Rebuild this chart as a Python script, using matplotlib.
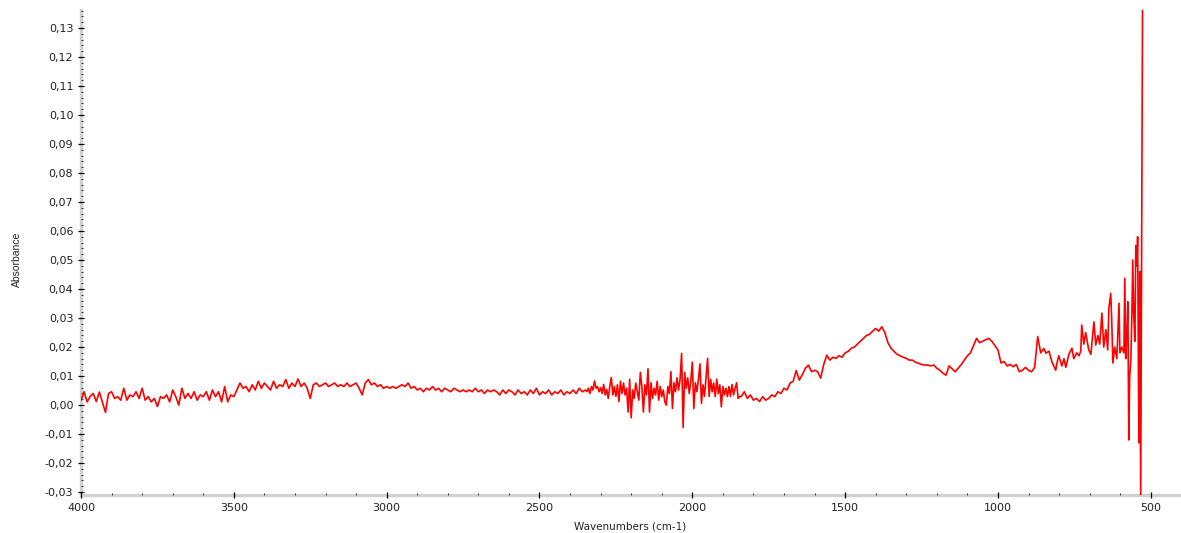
import numpy as np
import matplotlib
matplotlib.use("Agg")
import matplotlib.pyplot as plt
from matplotlib.ticker import MultipleLocator, FuncFormatter

# absorbance values in milli-absorbance units
# each segment: start wavenumber, step (cm-1), values
seg_4000 = [1.7, 4.6, 1.1, 3.0, 4.0, 1.2, 4.5, 1.0, -2.5, 4.0,
            4.6, 2.3, 2.9, 1.7, 5.8, 1.7, 3.5, 2.9, 4.6, 2.3,
            5.8, 1.7, 2.9, 1.1, 2.3, -0.5, 2.9, 2.3, 3.5, 1.1,
            5.2, 2.9, 0.0, 5.8, 2.3, 4.0, 2.3, 4.6, 1.7, 3.5,
            2.9, 4.6, 1.7, 5.2, 2.9, 4.6, 1.1, 6.4, 1.1, 3.5, 2.9]

seg_3490 = [5.2, 7.6, 5.8, 6.4, 4.6, 7.0, 5.2, 8.2, 5.8, 7.6,
            6.4, 5.2, 8.2, 5.8, 7.0, 6.4, 8.8, 5.8, 7.6, 6.4,
            9.0, 6.4, 7.6, 5.8, 2.3, 7.0, 7.6, 6.4, 7.0, 7.6,
            6.4, 7.0, 7.6, 6.4, 7.0, 6.4, 7.6, 6.4, 7.0, 7.6,
            5.8, 3.5, 7.6, 8.8, 7.0, 7.6, 6.4, 7.0, 5.8, 6.4,
            5.8, 6.4, 5.8, 6.4, 7.0, 6.4, 7.6, 5.8, 6.4, 5.2]

seg_2890 = [5.8, 4.6, 5.8, 5.2, 6.4, 5.2, 5.8, 4.6, 5.8, 5.2,
            4.6, 5.8, 5.2, 4.6, 5.2, 4.6, 5.2, 4.6, 5.8, 4.6,
            5.2, 4.0, 5.2, 4.6, 5.2, 4.6, 3.5, 5.2, 4.0, 5.2,
            4.6, 3.5, 5.2, 4.0, 4.6, 3.5, 5.2, 4.0, 5.8, 3.5,
            4.6, 4.0, 5.2, 3.5, 4.6, 4.0, 5.2, 3.5, 4.6, 4.0,
            5.2, 4.0, 5.8, 4.6, 5.2]

seg_2345 = [4.6, 5.8, 4.0, 6.4, 5.2, 8.3, 5.8, 6.4, 4.6, 6.0,
            4.0, 7.1, 3.5, 5.4, 2.3, 6.4, 9.5, 3.5, 6.4, 3.0,
            7.0, 1.2, 8.2, 4.0, 7.6, 3.5, 5.8, -2.4, 8.9, -4.4,
            5.2, 2.3, 7.6, 4.6, 1.7, 11.3, 6.4, -2.4, 7.0, 3.5,
            12.5, -2.4, 7.7, 2.3, 5.8, 3.5, 8.2, 1.7, 6.4, 2.9,
            5.2, 1.2, 0.0, 6.4, 4.0, 11.5, -1.2, 7.7, 4.6, 9.4,
            5.2, 8.8, 17.8, -7.7, 11.3, 5.8, 9.4, 4.0, 8.2, 14.8,
            -1.2, 7.7, 4.6, 8.8, 14.2, 0.6, 7.0, 3.0, 9.4, 16.1,
            3.0, 8.9, 4.6, 7.6, 2.9, 8.9, 4.0, 7.0, -0.6, 6.4,
            3.5, 5.8, 2.9, 6.4, 3.0, 7.1, 3.5, 5.8, 7.7, 2.3, 3.0]

seg_1840 = [2.9, 4.6, 2.3, 3.5, 1.7, 2.3, 1.2, 2.9, 1.7, 2.3,
            3.5, 2.9, 4.6, 4.0, 5.8, 5.2, 7.6, 8.2, 11.9]

seg_1650 = [8.6, 10.5, 12.7, 13.8, 11.5, 12.0, 11.5, 9.3, 14.0, 17.2,
            15.5, 16.5, 16.1, 17.0, 16.5, 18.0, 18.5, 19.6, 20.0, 21.0,
            22.0, 23.0, 24.0, 24.4, 25.5, 26.4, 25.5, 27.0, 25.0, 21.5,
            19.6, 18.5, 17.5, 17.0, 16.5, 16.1, 15.5, 15.5, 14.8, 14.4,
            14.0, 13.8, 13.8, 13.5, 13.8, 12.7, 12.0, 11.0, 10.3, 13.5,
            12.5, 11.5, 12.7, 14.0, 15.5, 17.0, 18.0, 20.5, 23.0, 21.5,
            22.0, 22.5, 23.0, 22.0, 20.5, 19.0, 14.5, 15.0, 13.5, 14.0,
            13.2, 14.0, 11.5, 12.0, 13.0, 12.0, 11.5, 13.0, 23.6, 18.0, 19.5]

tail_wn = [843, 833, 824, 811, 807, 801, 791, 784, 778, 768,
           758, 752, 742, 735, 729, 726, 719, 713, 703, 696,
           686, 680, 673, 667, 660, 654, 647, 641, 637, 631,
           628, 624, 618, 611, 604, 601, 595, 588, 585, 582,
           578, 575, 572, 569, 565, 562, 559, 556, 552, 549,
           546, 543, 539, 536, 533, 527]
tail_abs = [17.9, 18.6, 15.0, 12.0, 14.5, 17.0, 13.5, 16.0, 13.0, 17.5,
            19.6, 16.0, 18.0, 17.0, 18.6, 27.6, 21.0, 25.0, 19.0, 17.5,
            28.7, 20.7, 24.0, 21.0, 31.7, 20.0, 26.0, 19.0, 33.4, 38.5,
            30.0, 14.5, 20.0, 16.0, 35.1, 18.0, 20.0, 18.0, 43.7, 16.0,
            25.0, 35.6, -12.0, 10.0, 16.0, 30.0, 50.0, 32.0, 22.0, 55.0,
            48.0, 58.0, -13.0, 46.0, -31.0, 136.0]

segments = [(4000, 10, seg_4000), (3490, 10, seg_3490), (2890, 10, seg_2890),
            (2345, 5, seg_2345), (1840, 10, seg_1840), (1650, 10, seg_1650)]

wn = []
ab = []
for start, step, vals in segments:
    wn.extend(start - step * np.arange(len(vals)))
    ab.extend(vals)
wn.extend(tail_wn)
ab.extend(tail_abs)
wn = np.array(wn, dtype=float)
ab = np.array(ab) / 1000.0

fig = plt.figure(figsize=(11.81, 5.33), dpi=100)
ax = fig.add_axes([81 / 1181, 38 / 533, 1 - 81 / 1181 - 0.001, 485 / 533])

ax.plot(wn, ab, color="#ff0000", lw=1.2)

ax.set_xlim(4000, 405)
ax.set_ylim(-0.031, 0.1362)

ax.xaxis.set_major_locator(MultipleLocator(500))
ax.xaxis.set_minor_locator(MultipleLocator(100))
ax.yaxis.set_major_locator(MultipleLocator(0.01))
ax.yaxis.set_minor_locator(MultipleLocator(0.002))
ax.yaxis.set_major_formatter(FuncFormatter(lambda v, p: f"{round(v, 2) + 0.0:.2f}".replace(".", ",")))
ax.xaxis.set_major_formatter(FuncFormatter(lambda v, p: f"{int(round(v))}"))

for s in ["top", "right"]:
    ax.spines[s].set_visible(False)
for s in ["left", "bottom"]:
    ax.spines[s].set_color("#d0d0d0")
    ax.spines[s].set_linewidth(2.4)
    ax.spines[s].set_zorder(0.5)

ax.tick_params(which="major", direction="inout", length=5, width=0.9, color="black",
               labelsize=8, pad=3)
ax.tick_params(which="minor", direction="in", length=1.5, width=0.7, color="#333333")
for lab in ax.get_xticklabels() + ax.get_yticklabels():
    lab.set_family("DejaVu Sans")
    lab.set_color("#222222")

ax.set_xlabel("Wavenumbers (cm-1)", fontsize=7.5, family="DejaVu Sans", color="#222222")
ax.xaxis.set_label_coords(0.5, -0.054)
ax.set_ylabel("Absorbance", fontsize=7.5, family="Liberation Sans", color="#222222")
ax.yaxis.set_label_coords(-0.054, 0.485)

fig.savefig("out.png", dpi=100)
